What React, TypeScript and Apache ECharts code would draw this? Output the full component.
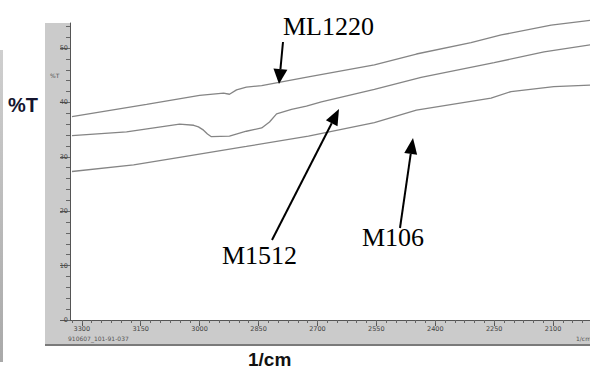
import React, { useEffect, useRef } from 'react';
import * as echarts from 'echarts';

// Wavenumber (1/cm) and %T readings for each spectrum
const wnML1220 = [3325, 3135, 3000, 2939, 2924, 2906, 2881, 2842, 2723, 2555, 2448, 2309, 2232, 2105, 2004];
const tML1220 = [37.4, 39.65, 41.3, 41.7, 41.5, 42.3, 42.8, 43.1, 44.7, 46.9, 48.9, 51.0, 52.4, 54.2, 55.1];

const wnM1512 = [3325, 3186, 3051, 3015, 3003, 2990, 2980, 2970, 2924, 2881, 2842, 2822, 2804, 2766, 2728, 2690, 2555, 2436, 2250, 2123, 2004];
const tM1512 = [33.9, 34.6, 36.0, 35.8, 35.5, 34.9, 34.2, 33.7, 33.8, 34.7, 35.3, 36.4, 37.9, 38.7, 39.3, 40.1, 42.4, 44.6, 47.3, 49.3, 50.6];

const wnM106 = [3325, 3168, 3051, 2881, 2723, 2555, 2448, 2258, 2207, 2098, 2004];
const tM106 = [27.3, 28.5, 29.9, 31.9, 33.8, 36.3, 38.6, 40.8, 42.0, 42.9, 43.2];

const xMajorTicks = [3300, 3150, 3000, 2850, 2700, 2550, 2400, 2250, 2100];
const xMinorTicks = [
  3325, 3300, 3275, 3250, 3225, 3200, 3175, 3150, 3125, 3100, 3075, 3050, 3025, 3000,
  2975, 2950, 2925, 2900, 2875, 2850, 2825, 2800, 2775, 2750, 2725, 2700, 2675, 2650,
  2625, 2600, 2575, 2550, 2525, 2500, 2475, 2450, 2425, 2400, 2375, 2350, 2325, 2300,
  2275, 2250, 2225, 2200, 2175, 2150, 2125, 2100, 2075, 2050, 2025,
];
const yMajorTicks = [0, 10, 20, 30, 40, 50];
const yMinorTicks = [0, 2, 4, 6, 8, 10, 12, 14, 16, 18, 20, 22, 24, 26, 28, 30, 32, 34, 36, 38, 40, 42, 44, 46, 48, 50, 52, 54];

const X_MIN = 2006;
const X_MAX = 3330;
const Y_MAX = 54.6;

const pairs = (xs: number[], ys: number[]) => xs.map((x, i) => [x, ys[i]]);

function arrow(x1: number, y1: number, x2: number, y2: number, len = 15, half = 5.5) {
  const dx = x2 - x1;
  const dy = y2 - y1;
  const l = Math.sqrt(dx * dx + dy * dy);
  const ux = dx / l;
  const uy = dy / l;
  const bx = x2 - ux * len;
  const by = y2 - uy * len;
  const px = -uy;
  const py = ux;
  return [
    {
      type: 'line',
      z: 100,
      shape: { x1, y1, x2: bx, y2: by },
      style: { stroke: '#000', lineWidth: 2 },
    },
    {
      type: 'polygon',
      z: 100,
      shape: {
        points: [
          [bx + px * half, by + py * half],
          [x2, y2],
          [bx - px * half, by - py * half],
        ],
      },
      style: { fill: '#000' },
    },
  ];
}

export default function App() {
  const ref = useRef<HTMLDivElement>(null);
  useEffect(() => {
    if (!ref.current) return;
    const chart = echarts.init(ref.current, undefined, { renderer: 'svg' });
    const axisFont = { fontSize: 6.5, color: '#444', fontFamily: 'DejaVu Sans' };
    const lineStyle = { color: '#858585', width: 1.3 };
    const plain = (v: number) => String(v);
    chart.setOption({
      animation: false,
      backgroundColor: '#ffffff',
      grid: { left: 70, right: 0, top: 23, bottom: 49, containLabel: false },
      xAxis: [
        {
          type: 'value',
          inverse: true,
          min: X_MIN,
          max: X_MAX,
          position: 'bottom',
          axisLine: { show: true, lineStyle: { color: '#555', width: 1 } },
          axisTick: { show: true, customValues: xMajorTicks, length: 6, lineStyle: { color: '#555' } },
          axisLabel: { show: true, customValues: xMajorTicks, margin: 5, formatter: plain, ...axisFont },
          splitLine: { show: false },
        },
        {
          type: 'value',
          inverse: true,
          min: X_MIN,
          max: X_MAX,
          position: 'bottom',
          axisLine: { show: false },
          axisTick: { show: true, customValues: xMinorTicks, length: 3, lineStyle: { color: '#666' } },
          axisLabel: { show: false },
          splitLine: { show: false },
        },
      ],
      yAxis: [
        {
          type: 'value',
          min: 0,
          max: Y_MAX,
          position: 'left',
          axisLine: { show: true, lineStyle: { color: '#555', width: 1 } },
          axisTick: { show: true, customValues: yMajorTicks, length: 10, lineStyle: { color: '#555' } },
          axisLabel: { show: true, customValues: yMajorTicks, margin: 2, formatter: plain, ...axisFont },
          splitLine: { show: false },
        },
        {
          type: 'value',
          min: 0,
          max: Y_MAX,
          position: 'left',
          axisLine: { show: false },
          axisTick: { show: true, customValues: yMinorTicks, length: 4, lineStyle: { color: '#666' } },
          axisLabel: { show: false },
          splitLine: { show: false },
        },
      ],
      series: [
        {
          name: 'ML1220',
          type: 'line',
          data: pairs(wnML1220, tML1220),
          showSymbol: false,
          clip: false,
          lineStyle,
        },
        {
          name: 'M1512',
          type: 'line',
          data: pairs(wnM1512, tM1512),
          showSymbol: false,
          clip: false,
          lineStyle,
        },
        {
          name: 'M106',
          type: 'line',
          data: pairs(wnM106, tM106),
          showSymbol: false,
          clip: false,
          lineStyle,
        },
      ],
      graphic: [
        {
          type: 'rect',
          z: -10,
          shape: { x: 0, y: 50, width: 3, height: 312 },
          style: {
            fill: new echarts.graphic.LinearGradient(0, 0, 0, 1, [
              { offset: 0, color: '#cfcfcf' },
              { offset: 1, color: '#a9a9a9' },
            ]),
          },
        },
        {
          type: 'rect',
          z: -10,
          shape: { x: 45, y: 23, width: 25, height: 322 },
          style: { fill: '#cbcbcb' },
        },
        {
          type: 'rect',
          z: -10,
          shape: { x: 45, y: 320, width: 545, height: 25 },
          style: { fill: '#cbcbcb' },
        },
        {
          type: 'rect',
          z: -9,
          shape: { x: 45, y: 344, width: 545, height: 2 },
          style: { fill: '#7a7a7a' },
        },
        {
          type: 'text',
          z: 100,
          x: 50,
          y: 75,
          style: { text: '%T', fontSize: 6, fill: '#555', fontFamily: 'DejaVu Sans', verticalAlign: 'middle' },
        },
        {
          type: 'text',
          z: 100,
          x: 68,
          y: 338,
          style: { text: '910607_101-91-037', fontSize: 6, fill: '#555', fontFamily: 'DejaVu Sans', verticalAlign: 'middle' },
        },
        {
          type: 'text',
          z: 100,
          x: 576,
          y: 338,
          style: { text: '1/cm', fontSize: 6, fill: '#555', fontFamily: 'DejaVu Sans', verticalAlign: 'middle' },
        },
        {
          type: 'text',
          z: 100,
          x: 8,
          y: 105,
          style: { text: '%T', fontSize: 20, fontWeight: 'bold', fill: '#14142e', fontFamily: 'Liberation Sans', verticalAlign: 'middle' },
        },
        {
          type: 'text',
          z: 100,
          x: 248,
          y: 359,
          style: { text: '1/cm', fontSize: 19, fontWeight: 'bold', fill: '#111', fontFamily: 'Liberation Sans', verticalAlign: 'middle' },
        },
        {
          type: 'text',
          z: 100,
          x: 283,
          y: 26,
          style: { text: 'ML1220', fontSize: 26, fill: '#000', fontFamily: 'Liberation Serif', verticalAlign: 'middle' },
        },
        {
          type: 'text',
          z: 100,
          x: 222,
          y: 255,
          style: { text: 'M1512', fontSize: 26, fill: '#000', fontFamily: 'Liberation Serif', verticalAlign: 'middle' },
        },
        {
          type: 'text',
          z: 100,
          x: 362,
          y: 237,
          style: { text: 'M106', fontSize: 26, fill: '#000', fontFamily: 'Liberation Serif', verticalAlign: 'middle' },
        },
        ...arrow(283, 42, 279, 84, 15, 7),
        ...arrow(272, 240, 339, 109, 16, 6.5),
        ...arrow(400, 228, 413, 138, 16, 6.5),
      ],
    });
    return () => chart.dispose();
  }, []);
  return (
    <div
      ref={ref}
      style={{ position: 'absolute', left: 0, top: 0, width: 590, height: 369, background: '#fff' }}
    />
  );
}
